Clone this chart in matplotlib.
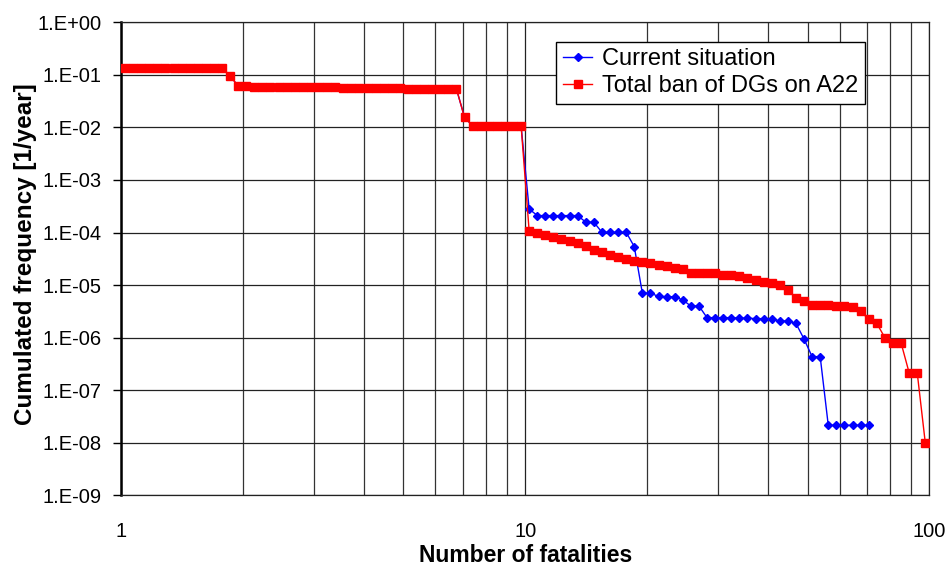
import math
import matplotlib
matplotlib.use("Agg")
import matplotlib.pyplot as plt
from matplotlib.ticker import FixedLocator, FuncFormatter, NullFormatter, NullLocator

# ---------------- data ----------------
fatalities = [
    1.023, 1.072, 1.122, 1.175, 1.230, 1.288, 1.349, 1.413, 1.479, 1.549,
    1.622, 1.698, 1.778, 1.862, 1.950, 2.042, 2.138, 2.239, 2.344, 2.455,
    2.570, 2.692, 2.818, 2.951, 3.090, 3.236, 3.388, 3.548, 3.715, 3.890,
    4.074, 4.266, 4.467, 4.677, 4.898, 5.129, 5.370, 5.623, 5.888, 6.166,
    6.457, 6.761, 7.079, 7.413, 7.762, 8.128, 8.511, 8.913, 9.333, 9.772,
    10.23, 10.72, 11.22, 11.75, 12.30, 12.88, 13.49, 14.13, 14.79, 15.49,
    16.22, 16.98, 17.78, 18.62, 19.50, 20.42, 21.38, 22.39, 23.44, 24.55,
    25.70, 26.92, 28.18, 29.51, 30.90, 32.36, 33.88, 35.48, 37.15, 38.90,
    40.74, 42.66, 44.67, 46.77, 48.98, 51.29, 53.70, 56.23, 58.88, 61.66,
    64.57, 67.61, 70.79, 74.13, 77.62, 81.28, 85.11, 89.13, 93.33, 97.72,
]

total_ban = [
    0.135, 0.135, 0.135, 0.135, 0.135, 0.135, 0.135, 0.135, 0.135, 0.135,
    0.135, 0.135, 0.135, 0.096, 0.061, 0.061, 0.060, 0.060, 0.060, 0.060,
    0.059, 0.059, 0.059, 0.059, 0.058, 0.058, 0.058, 0.057, 0.057, 0.057,
    0.057, 0.056, 0.056, 0.056, 0.056, 0.055, 0.055, 0.055, 0.055, 0.055,
    0.054, 0.054, 0.0156, 0.0107, 0.0107, 0.0107, 0.0107, 0.0107, 0.0107, 0.0107,
    1.08e-4, 9.9e-5, 9.0e-5, 8.3e-5, 7.5e-5, 6.9e-5, 6.3e-5, 5.5e-5, 4.6e-5, 4.2e-5,
    3.7e-5, 3.4e-5, 3.1e-5, 2.9e-5, 2.7e-5, 2.6e-5, 2.4e-5, 2.3e-5, 2.1e-5, 2.0e-5,
    1.72e-5, 1.67e-5, 1.67e-5, 1.67e-5, 1.58e-5, 1.58e-5, 1.49e-5, 1.35e-5, 1.27e-5, 1.16e-5,
    1.08e-5, 9.9e-6, 8.0e-6, 5.8e-6, 5.0e-6, 4.13e-6, 4.13e-6, 4.13e-6, 4.0e-6, 4.0e-6,
    3.77e-6, 3.2e-6, 2.23e-6, 1.87e-6, 1.0e-6, 8.0e-7, 8.0e-7, 2.15e-7, 2.15e-7, 1.0e-8,
]

current_tail = [
    2.8e-4, 2.1e-4, 2.1e-4, 2.1e-4, 2.1e-4, 2.1e-4, 2.1e-4, 1.57e-4, 1.57e-4, 1.01e-4,
    1.01e-4, 1.01e-4, 1.01e-4, 5.4e-5, 7.0e-6, 7.0e-6, 6.1e-6, 6.0e-6, 6.0e-6, 5.2e-6,
    4.0e-6, 4.0e-6, 2.4e-6, 2.4e-6, 2.4e-6, 2.4e-6, 2.35e-6, 2.35e-6, 2.3e-6, 2.3e-6,
    2.3e-6, 2.07e-6, 2.07e-6, 1.87e-6, 9.4e-7, 4.35e-7, 4.35e-7, 2.15e-8, 2.15e-8, 2.15e-8,
    2.15e-8, 2.15e-8, 2.15e-8,
]
# below 10 fatalities the current situation coincides with the total ban curve
current = total_ban[:50] + current_tail

series_labels = ["Current situation", "Total ban of DGs on A22"]
x_tick_values = [1, 10, 100]
y_exponents = list(range(-9, 1))

# ---------------- figure ----------------
plt.rcParams["font.family"] = ["Liberation Sans", "Arial", "DejaVu Sans"]

fig = plt.figure(figsize=(9.48, 5.66), dpi=100)
ax = fig.add_axes([0.1276, 0.1249, 0.8527, 0.8357])

ax.set_xscale("log")
ax.set_yscale("log")
ax.set_xlim(1, 100)
ax.set_ylim(1e-9, 1)

ax.plot(fatalities[:len(current)], current, color="#0000ff", lw=1.0,
        marker="D", markersize=4.3, label=series_labels[0], zorder=3)
ax.plot(fatalities, total_ban, color="#ff0000", lw=1.0,
        marker="s", markersize=5.8, label=series_labels[1], zorder=4)

# ticks
ax.xaxis.set_major_locator(FixedLocator(x_tick_values))
ax.xaxis.set_major_formatter(FuncFormatter(lambda v, p: f"{v:g}"))
minor_x = [m * d for d in (1, 10) for m in range(2, 10)]
ax.xaxis.set_minor_locator(FixedLocator(minor_x))
ax.xaxis.set_minor_formatter(NullFormatter())
ax.yaxis.set_major_locator(FixedLocator([10.0 ** e for e in y_exponents]))
ax.yaxis.set_major_formatter(FuncFormatter(
    lambda v, p: "1.E{:+03d}".format(int(round(math.log10(v))))))
ax.yaxis.set_minor_locator(NullLocator())

ax.tick_params(axis="x", which="both", length=0, pad=19, labelsize=14.5)
ax.tick_params(axis="y", which="major", length=6, width=1, pad=8,
               labelsize=14.5, direction="out")

# grid
ax.grid(True, which="major", axis="both", color="#222222", lw=0.9, zorder=1)
ax.grid(True, which="minor", axis="x", color="#333333", lw=0.9, zorder=1)
ax.set_axisbelow(True)

for side in ("top", "right", "bottom"):
    ax.spines[side].set_linewidth(0.9)
    ax.spines[side].set_color("#222222")
ax.spines["left"].set_linewidth(1.8)
ax.spines["left"].set_color("black")

ax.set_xlabel("Number of fatalities", fontsize=16.5, fontweight="bold")
ax.set_ylabel("Cumulated frequency [1/year]", fontsize=17.5, fontweight="bold")
ax.xaxis.set_label_coords(0.5, -0.102)
ax.yaxis.set_label_coords(-0.104, 0.51)

leg = ax.legend(loc="upper right", bbox_to_anchor=(0.920, 0.959),
                fontsize=17, frameon=True, fancybox=False, shadow=False,
                edgecolor="black", framealpha=1.0, handlelength=1.25,
                handletextpad=0.4, labelspacing=0.22, borderpad=0.28,
                borderaxespad=0.0)
leg.get_frame().set_linewidth(1.0)
leg.set_zorder(10)

fig.savefig("out.png", dpi=100)
